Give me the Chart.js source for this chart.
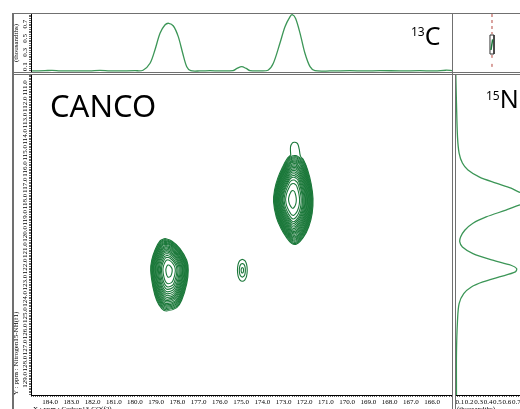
<!DOCTYPE html>
<html>
<head>
<meta charset="utf-8">
<title>CANCO</title>
<script src="https://cdn.jsdelivr.net/npm/chart.js@4.4.1/dist/chart.umd.min.js"></script>
<style>
  html, body { margin:0; padding:0; width:520px; height:409px; overflow:hidden; background:#fff; }
  #wrap { position:relative; width:520px; height:409px; overflow:hidden; }
  canvas { position:absolute; }
  .fr { position:absolute; background:#707070; }
  .lbl { position:absolute; font-family:'Noto Sans', sans-serif; color:#000; line-height:1; white-space:nowrap; }
</style>
</head>
<body>
<div id="wrap">
  <canvas id="topChart" width="440" height="59" style="left:12px;top:13px;width:440px;height:59px"></canvas>
  <canvas id="cornerChart" width="67" height="59" style="left:453px;top:13px;width:67px;height:59px"></canvas>
  <canvas id="mainChart" width="440" height="345" style="left:12px;top:75px;width:440px;height:345px"></canvas>
  <canvas id="rightChart" width="100" height="345" style="left:455px;top:75px;width:100px;height:345px"></canvas>

  <div class="fr" style="left:12px;top:13px;width:508px;height:1px"></div>
  <div class="fr" style="left:12px;top:13px;width:2px;height:396px"></div>
  <div class="fr" style="left:12px;top:72px;width:508px;height:1px"></div>
  <div class="fr" style="left:12px;top:74px;width:508px;height:1px"></div>
  <div class="fr" style="left:452px;top:13px;width:1px;height:396px"></div>
  <div class="fr" style="left:455px;top:74px;width:1px;height:335px"></div>

  <div class="lbl" style="left:50px;top:90px;font-size:31px">CANCO</div>
  <div class="lbl" style="left:411px;top:23px;font-size:25px"><span style="font-size:12px;vertical-align:9px">13</span>C</div>
  <div class="lbl" style="left:486px;top:86px;font-size:25px"><span style="font-size:12px;vertical-align:8px">15</span>N</div>
</div>
<script>
// ---------------- data ----------------
const carbonTickLabels = ['184.0','183.0','182.0','181.0','180.0','179.0','178.0','177.0','176.0','175.0','174.0','173.0','172.0','171.0','170.0','169.0','168.0','167.0','166.0'];
const nitrogenTickLabels = ['111.0','112.0','113.0','114.0','115.0','116.0','117.0','118.0','119.0','120.0','121.0','122.0','123.0','124.0','125.0','126.0','127.0','128.0','129.0'];
const topTickLabels = ['0.1','0.3','0.5','0.7'];
const rightTickLabels = ['0.1','0.2','0.3','0.4','0.5','0.6','0.7'];

const carbonRange = [165.06, 184.9];
const nitrogenRange = [110.2, 129.93];
const topRange = [0.025, 0.842];
const rightRange = [0.06, 1.102];

// 13C projection (top)
const topPpm = [184.85,184.24,183.91,183.53,182.83,182.12,181.65,181.18,180.47,180.00,179.62,179.29,179.06,178.82,178.59,178.41,178.19,177.96,177.75,177.56,177.37,176.94,176.46,175.99,175.38,175.19,174.97,174.76,174.58,174.11,173.73,173.48,173.17,172.93,172.69,172.59,172.43,172.22,171.99,171.75,171.52,170.81,169.87,169.16,168.45,167.51,166.57,165.86,165.34,165.06];
const topIntensity = [0.040,0.044,0.048,0.042,0.040,0.041,0.047,0.040,0.041,0.043,0.050,0.148,0.335,0.570,0.687,0.711,0.673,0.523,0.289,0.100,0.044,0.040,0.043,0.040,0.045,0.075,0.100,0.075,0.045,0.040,0.050,0.148,0.430,0.663,0.804,0.832,0.780,0.570,0.289,0.100,0.044,0.040,0.043,0.040,0.044,0.041,0.043,0.040,0.050,0.045];

// 15N projection (right)
const rightPpm = [110.20,111.93,114.03,115.01,115.63,116.06,116.50,116.87,117.18,117.42,117.61,117.85,118.04,118.22,118.53,118.95,119.34,119.77,120.18,120.49,120.80,121.21,121.62,121.93,122.13,122.34,122.65,122.96,123.27,123.68,124.29,125.32,127.36,129.93];
const rightIntensity = [0.058,0.065,0.076,0.093,0.128,0.187,0.310,0.486,0.644,0.730,0.840,0.900,0.840,0.730,0.590,0.380,0.240,0.153,0.110,0.100,0.128,0.240,0.450,0.644,0.703,0.690,0.520,0.345,0.223,0.142,0.093,0.076,0.065,0.065];

// 2D peaks: centres (ppm)
const peakCenterC = [178.40, 172.59, 174.94];
const peakCenterN = [122.24, 117.87, 122.24];

// peak 1 outer contour (ppm)
const peak1OutlineC = [178.59,178.27,177.88,177.56,177.49,177.56,177.80,178.03,178.51,178.74,178.98,179.15,179.26,179.21,179.06,178.82];
const peak1OutlineN = [120.28,120.43,120.90,121.62,122.24,123.06,124.09,124.54,124.75,124.60,124.09,123.29,122.24,121.62,121.00,120.43];
const peak1Levels = [1.00,0.97,0.94,0.91,0.88,0.85,0.82,0.78,0.745,0.71,0.67,0.625,0.58,0.53,0.47,0.41,0.33,0.17];

// peak 2 outermost contour with the small top lobe (ppm)
const peak2OuterC = [172.66,172.67,172.58,172.46,172.34,172.26,172.20,172.05,171.86,171.70,171.61,171.65,171.81,172.06,172.38,172.62,172.87,173.11,173.34,173.47,173.42,173.27,173.03,172.84];
const peak2OuterN = [115.14,114.64,114.38,114.35,114.43,114.77,115.20,115.45,116.06,116.89,117.81,118.74,119.56,120.20,120.62,120.58,120.20,119.68,118.96,118.02,117.28,116.56,115.84,115.38];
// peak 2 body contour (ppm)
const peak2OutlineC = [172.38,172.07,171.88,171.72,171.63,171.67,171.83,172.07,172.38,172.61,172.85,173.09,173.32,173.45,173.40,173.25,173.01,172.82,172.61];
const peak2OutlineN = [115.14,115.45,116.06,116.89,117.81,118.74,119.56,120.18,120.59,120.55,120.18,119.66,118.95,118.02,117.30,116.58,115.86,115.40,115.17];
const peak2Levels = [0.99,0.965,0.94,0.915,0.89,0.865,0.84,0.81,0.78,0.75,0.72,0.69,0.655,0.62,0.58,0.54,0.50,0.44,0.36,0.20];

// peak 3 (small) outer contour (ppm)
const peak3OutlineC = [174.94,174.82,174.74,174.71,174.74,174.82,174.94,175.06,175.14,175.17,175.14,175.06];
const peak3OutlineN = [121.56,121.65,121.88,122.24,122.60,122.83,122.92,122.83,122.60,122.24,121.88,121.65];
const peak3Levels = [1.00,0.62,0.25];

// level indicator (top right box), normalized units
const markerDashTop = [[0.582,0.983],[0.582,0.64]];
const markerDashBottom = [[0.582,0.29],[0.582,0.034]];
const markerBox = [[0.552,0.627],[0.612,0.627],[0.612,0.305],[0.552,0.305],[0.552,0.627]];
const markerLevel = [[0.567,0.373],[0.592,0.554]];

// ---------------- helpers ----------------
const contourGreen = '#1b783a';
const projGreen = '#3c9657';
const tickFont = '7px "Liberation Serif"';
Chart.defaults.font.family = "'Liberation Serif', serif";

function minorTicks(lo, hi, step) {
  const out = [];
  const k0 = Math.ceil(lo / step - 1e-9), k1 = Math.floor(hi / step + 1e-9);
  for (let k = k0; k <= k1; k++) out.push(Math.round(k * step * 1e4) / 1e4);
  return out;
}
const carbonMajor = new Set(carbonTickLabels.map(Number));
const rightMajor = new Set(rightTickLabels.map(Number));

const axisTextPlugin = {
  id: 'axisText',
  afterDraw(chart, args, opts) {
    const ctx = chart.ctx;
    ctx.save();
    ctx.fillStyle = '#000';
    (opts.tickLabels || []).forEach(g => {
      const s = chart.scales[g.scale];
      ctx.font = tickFont;
      g.labels.forEach(t => {
        const p = s.getPixelForValue(parseFloat(t));
        ctx.save();
        ctx.translate(g.x, p);
        ctx.rotate(-Math.PI / 2);
        ctx.textAlign = 'center';
        ctx.textBaseline = 'middle';
        ctx.fillText(t, 0, 0);
        ctx.restore();
      });
    });
    (opts.titles || []).forEach(t => {
      ctx.save();
      ctx.font = tickFont;
      ctx.translate(t.x, t.y);
      if (t.rot) ctx.rotate(t.rot);
      ctx.textAlign = t.align;
      ctx.textBaseline = 'middle';
      ctx.fillText(t.text, 0, 0);
      ctx.restore();
    });
    ctx.restore();
  }
};

const axisGrid = { drawOnChartArea: false, drawTicks: true, tickLength: 2, color: '#000', lineWidth: 0.6 };
const axisBorder = { display: true, color: '#000', width: 1 };
const baseOptions = () => ({
  responsive: false, animation: false, events: [],
  plugins: { legend: { display: false }, tooltip: { enabled: false } }
});

// ---------------- top projection ----------------
{
  const opts = baseOptions();
  opts.layout = { padding: { top: 1, left: 0, right: 0, bottom: 0 } };
  opts.plugins.axisText = {
    tickLabels: [{ scale: 'y', x: 13, labels: topTickLabels }],
    titles: [{ text: '(thousandths)', x: 4, y: 30, rot: -Math.PI / 2, align: 'center' }]
  };
  opts.scales = {
    x: { type: 'linear', display: false, reverse: true, min: carbonRange[0], max: carbonRange[1] },
    y: {
      type: 'linear', position: 'left', min: topRange[0], max: topRange[1],
      afterBuildTicks: s => { s.ticks = minorTicks(topRange[0], topRange[1], 0.025).map(v => ({ value: v })); },
      afterFit: s => { s.width = 19; },
      ticks: { display: false },
      grid: axisGrid, border: axisBorder
    }
  };
  new Chart(document.getElementById('topChart'), {
    type: 'scatter',
    data: { datasets: [{
      data: topPpm.map((c, i) => ({ x: c, y: topIntensity[i] })),
      showLine: true, borderColor: projGreen, borderWidth: 1.3, pointRadius: 0, tension: 0.3, fill: false
    }] },
    options: opts,
    plugins: [axisTextPlugin]
  });
}

// ---------------- corner level marker ----------------
{
  const opts = baseOptions();
  opts.layout = { padding: 0 };
  opts.scales = {
    x: { type: 'linear', display: false, min: 0, max: 1 },
    y: { type: 'linear', display: false, min: 0, max: 1 }
  };
  const toPts = a => a.map(p => ({ x: p[0], y: p[1] }));
  new Chart(document.getElementById('cornerChart'), {
    type: 'scatter',
    data: { datasets: [
      { data: toPts(markerLevel), showLine: true, borderColor: contourGreen, borderWidth: 1.5, pointRadius: 0 },
      { data: toPts(markerBox), showLine: true, borderColor: '#333', borderWidth: 1, pointRadius: 0 },
      { data: toPts(markerDashTop), showLine: true, borderColor: '#b5473f', borderWidth: 1, borderDash: [3, 3], pointRadius: 0 },
      { data: toPts(markerDashBottom), showLine: true, borderColor: '#b5473f', borderWidth: 1, borderDash: [3, 6], pointRadius: 0 }
    ] },
    options: opts
  });
}

// ---------------- main 2D contour ----------------
{
  const rings = [];
  function addRings(cC, cN, outC, outN, levels) {
    levels.forEach(s => {
      const pts = outC.map((c, i) => ({ x: cC + (c - cC) * s, y: cN + (outN[i] - cN) * s }));
      pts.push(pts[0]);
      rings.push(pts);
    });
  }
  addRings(peakCenterC[0], peakCenterN[0], peak1OutlineC, peak1OutlineN, peak1Levels);
  addRings(peakCenterC[1], peakCenterN[1], peak2OuterC, peak2OuterN, [1]);
  addRings(peakCenterC[1], peakCenterN[1], peak2OutlineC, peak2OutlineN, peak2Levels);
  addRings(peakCenterC[2], peakCenterN[2], peak3OutlineC, peak3OutlineN, peak3Levels);

  const opts = baseOptions();
  opts.layout = { padding: 0 };
  opts.plugins.axisText = {
    tickLabels: [{ scale: 'y', x: 13, labels: nitrogenTickLabels }],
    titles: [
      { text: 'Y : ppm : Nitrogen15-NH(f1)', x: 4, y: 320, rot: -Math.PI / 2, align: 'left' },
      { text: 'X : ppm : Carbon13-CO(f2)', x: 21, y: 334, align: 'left' }
    ]
  };
  opts.scales = {
    x: {
      type: 'linear', position: 'bottom', reverse: true, min: carbonRange[0], max: carbonRange[1],
      afterBuildTicks: s => { s.ticks = minorTicks(carbonRange[0], carbonRange[1], 0.1).map(v => ({ value: v })); },
      afterFit: s => { s.height = 25; },
      ticks: { autoSkip: false, minRotation: 0, maxRotation: 0, padding: 1, color: '#000', font: { size: 7 },
        callback: v => carbonMajor.has(v) ? v.toFixed(1) : '' },
      grid: axisGrid, border: axisBorder
    },
    y: {
      type: 'linear', position: 'left', reverse: true, min: nitrogenRange[0], max: nitrogenRange[1],
      afterBuildTicks: s => { s.ticks = minorTicks(nitrogenRange[0], nitrogenRange[1], 0.1).map(v => ({ value: v })); },
      afterFit: s => { s.width = 19; },
      ticks: { display: false },
      grid: axisGrid, border: axisBorder
    }
  };
  new Chart(document.getElementById('mainChart'), {
    type: 'scatter',
    data: { datasets: rings.map(r => ({
      data: r, showLine: true, borderColor: contourGreen, borderWidth: 1.1, pointRadius: 0, tension: 0.4, fill: false
    })) },
    options: opts,
    plugins: [axisTextPlugin]
  });
}

// ---------------- right projection ----------------
{
  const opts = baseOptions();
  opts.layout = { padding: { left: 1, top: 0, right: 0, bottom: 0 } };
  opts.plugins.axisText = {
    titles: [{ text: '(thousandths)', x: 2, y: 334, align: 'left' }]
  };
  opts.scales = {
    x: {
      type: 'linear', position: 'bottom', min: rightRange[0], max: rightRange[1],
      afterBuildTicks: s => { s.ticks = minorTicks(rightRange[0], rightRange[1], 0.025).map(v => ({ value: v })); },
      afterFit: s => { s.height = 25; },
      ticks: { autoSkip: false, minRotation: 0, maxRotation: 0, padding: 1, color: '#000', font: { size: 7 },
        callback: v => rightMajor.has(v) ? String(v) : '' },
      grid: axisGrid, border: axisBorder
    },
    y: { type: 'linear', display: false, reverse: true, min: nitrogenRange[0], max: nitrogenRange[1] }
  };
  new Chart(document.getElementById('rightChart'), {
    type: 'scatter',
    data: { datasets: [{
      data: rightPpm.map((n, i) => ({ x: rightIntensity[i], y: n })),
      showLine: true, borderColor: projGreen, borderWidth: 1.3, pointRadius: 0, tension: 0.3, fill: false
    }] },
    options: opts,
    plugins: [axisTextPlugin]
  });
}
</script>
</body>
</html>
